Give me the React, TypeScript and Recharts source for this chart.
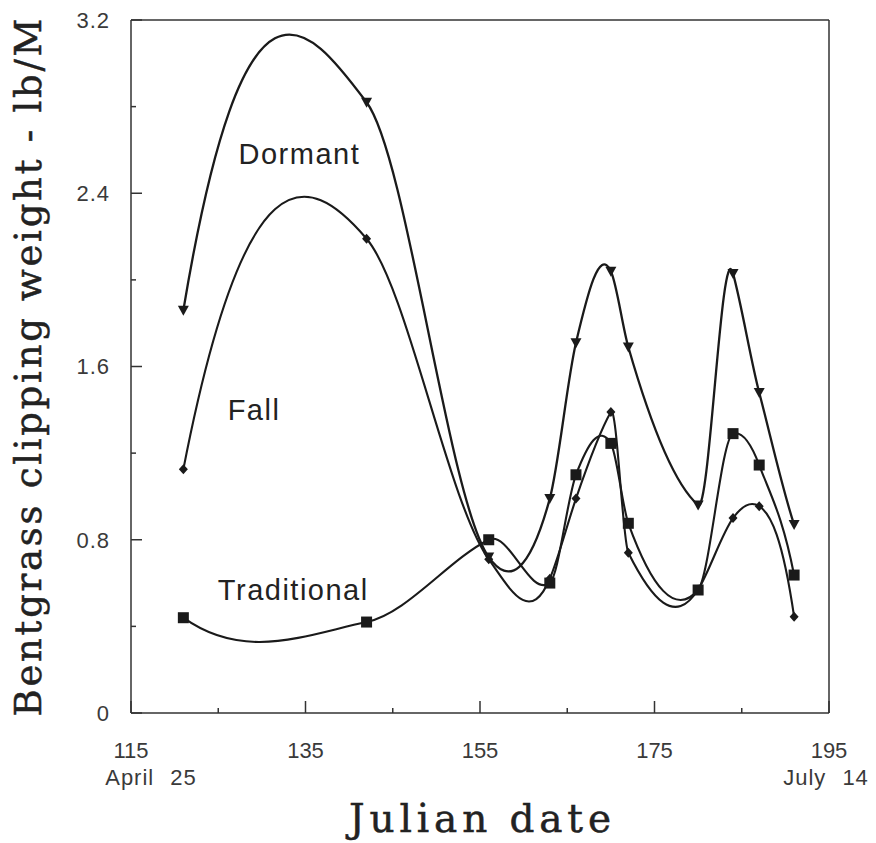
import React from 'react';
import { LineChart, Line, XAxis, YAxis, ReferenceLine, ReferenceDot, Label } from 'recharts';

// ---- data ----
const days = [121, 142, 156, 163, 166, 170, 172, 180, 184, 187, 191];
const dormantValues = [1.86, 2.82, 0.72, 0.99, 1.71, 2.04, 1.69, 0.96, 2.03, 1.48, 0.87];
const fallValues = [1.125, 2.19, 0.71, 0.62, 0.99, 1.39, 0.74, 0.57, 0.9, 0.955, 0.445];
const traditionalValues = [0.44, 0.42, 0.8, 0.6, 1.1, 1.245, 0.876, 0.568, 1.29, 1.145, 0.637];

const xTicks = [115, 125, 135, 145, 155, 165, 175, 185, 195];
const xTickLabels = ['115', '', '135', '', '155', '', '175', '', '195'];
const xSubLabels = ['April 25', '', '', '', '', '', '', '', 'July 14'];
const yTicks = [0, 0.4, 0.8, 1.2, 1.6, 2.0, 2.4, 2.8, 3.2];
const yTickLabels = ['0', '', '0.8', '', '1.6', '', '2.4', '', '3.2'];

const seriesNames = ['Dormant', 'Fall', 'Traditional'];
const xTitle = 'Julian date';
const yTitle = 'Bentgrass clipping weight - lb/M';

const toRows = (vals: number[]) => days.map((d, i) => ({ day: d, value: vals[i] }));
const dormantData = toRows(dormantValues);
const fallData = toRows(fallValues);
const traditionalData = toRows(traditionalValues);

// Akima-type smooth curve y(x) as a d3-style curve factory
function akimaCurve(context: any) {
  let xs: number[] = [];
  let ys: number[] = [];
  return {
    areaStart() {},
    areaEnd() {},
    lineStart() {
      xs = [];
      ys = [];
    },
    point(x: number, y: number) {
      xs.push(+x);
      ys.push(+y);
    },
    lineEnd() {
      const n = xs.length;
      if (!n) return;
      context.moveTo(xs[0], ys[0]);
      if (n < 3) {
        for (let i = 1; i < n; i++) context.lineTo(xs[i], ys[i]);
        return;
      }
      const s: number[] = [];
      for (let i = 0; i < n - 1; i++) s.push((ys[i + 1] - ys[i]) / (xs[i + 1] - xs[i]));
      const mExt: number[] = new Array(n + 3);
      for (let i = 0; i < n - 1; i++) mExt[i + 2] = s[i];
      mExt[1] = 2 * mExt[2] - mExt[3];
      mExt[0] = 2 * mExt[1] - mExt[2];
      mExt[n + 1] = 2 * mExt[n] - mExt[n - 1];
      mExt[n + 2] = 2 * mExt[n + 1] - mExt[n];
      const t: number[] = new Array(n);
      for (let i = 0; i < n; i++) {
        const mm2 = mExt[i];
        const mm1 = mExt[i + 1];
        const m0 = mExt[i + 2];
        const m1 = mExt[i + 3];
        const w1 = Math.abs(m1 - m0);
        const w2 = Math.abs(mm1 - mm2);
        t[i] = w1 + w2 < 1e-12 ? (mm1 + m0) / 2 : (w1 * mm1 + w2 * m0) / (w1 + w2);
      }
      t[0] = mExt[1];
      t[n - 1] = mExt[n + 1];
      for (let i = 0; i < n - 1; i++) {
        const h = xs[i + 1] - xs[i];
        context.bezierCurveTo(
          xs[i] + h / 3, ys[i] + (t[i] * h) / 3,
          xs[i + 1] - h / 3, ys[i + 1] - (t[i + 1] * h) / 3,
          xs[i + 1], ys[i + 1]
        );
      }
    },
  };
}

const INK = '#1a1a1a';

const TriDot = (p: any) => {
  const { cx, cy, index } = p;
  if (cx == null || cy == null) return <g key={`t${index}`} />;
  return <path key={`t${index}`} d={`M${cx - 5.5},${cy - 4.5}L${cx + 5.5},${cy - 4.5}L${cx},${cy + 5.5}Z`} fill={INK} />;
};
const DiaDot = (p: any) => {
  const { cx, cy, index } = p;
  if (cx == null || cy == null) return <g key={`d${index}`} />;
  return <path key={`d${index}`} d={`M${cx},${cy - 5}L${cx + 4.5},${cy}L${cx},${cy + 5}L${cx - 4.5},${cy}Z`} fill={INK} />;
};
const SqDot = (p: any) => {
  const { cx, cy, index } = p;
  if (cx == null || cy == null) return <g key={`s${index}`} />;
  return <rect key={`s${index}`} x={cx - 5.5} y={cy - 5.5} width={11} height={11} fill={INK} />;
};

const tickFont = { fontFamily: '"Liberation Sans", Arial, sans-serif', fontSize: 22, fill: '#3a3a3a' };

const XTick = (p: any) => {
  const { x, y, payload, index } = p;
  const i = xTicks.indexOf(payload.value);
  const label = xTickLabels[i] || '';
  const sub = xSubLabels[i] || '';
  const major = label !== '';
  const subDx = i === 0 ? 20 : i === xTicks.length - 1 ? -3 : 0;
  return (
    <g key={`xt${index}`}>
      <line x1={x} x2={x} y1={y} y2={y - (major ? 12 : 5)} stroke="#333" strokeWidth={1.5} />
      {label && (
        <text x={x} y={y + 45} textAnchor="middle" {...tickFont}>{label}</text>
      )}
      {sub && (
        <text x={x + subDx} y={y + 72} textAnchor="middle" {...tickFont} letterSpacing={1} style={{ wordSpacing: 9 }}>{sub}</text>
      )}
    </g>
  );
};

const YTick = (p: any) => {
  const { x, y, payload, index } = p;
  const i = yTicks.findIndex((v) => Math.abs(v - payload.value) < 1e-6);
  const label = yTickLabels[i] || '';
  const major = label !== '';
  return (
    <g key={`yt${index}`}>
      <line x1={x} x2={x + (major ? 11 : 5)} y1={y} y2={y} stroke="#333" strokeWidth={1.5} />
      {label && (
        <text x={x - 21} y={y} dy="0.36em" textAnchor="end" {...tickFont} letterSpacing={1}>{label}</text>
      )}
    </g>
  );
};

const titleFont = { fontFamily: '"DejaVu Serif", "Liberation Serif", serif', fill: '#222', stroke: '#222', strokeWidth: 0.5 };
const seriesLabelFont = { fontFamily: '"Liberation Sans", Arial, sans-serif', fontSize: 29, fill: '#222', letterSpacing: 1.5 };

const SeriesLabel = (text: string) => (p: any) => {
  const vb = p.viewBox || {};
  const cx = (vb.x ?? 0) + (vb.width ?? 0) / 2;
  const cy = (vb.y ?? 0) + (vb.height ?? 0) / 2;
  return (
    <text x={cx} y={cy} dy="0.36em" textAnchor="middle" {...seriesLabelFont}>{text}</text>
  );
};

export default function App() {
  return (
    <LineChart width={860} height={835} margin={{ top: 12, right: 39, left: 63, bottom: 70 }}>
      <XAxis
        type="number"
        dataKey="day"
        domain={[115, 195]}
        ticks={xTicks}
        interval={0}
        allowDataOverflow
        height={60}
        tickSize={0}
        tickMargin={0}
        tick={<XTick />}
        tickLine={false}
        axisLine={{ stroke: '#333', strokeWidth: 1.5 }}
      >
        <Label
          content={(p: any) => {
            const vb = p.viewBox || {};
            return (
              <text x={vb.x + vb.width / 2} y={vb.y + 119} textAnchor="middle" fontSize={39} textLength={262} lengthAdjust="spacing" {...titleFont}>
                {xTitle}
              </text>
            );
          }}
        />
      </XAxis>
      <YAxis
        type="number"
        domain={[0, 3.2]}
        ticks={yTicks}
        interval={0}
        allowDataOverflow
        width={60}
        tickSize={0}
        tickMargin={0}
        tick={<YTick />}
        tickLine={false}
        axisLine={{ stroke: '#333', strokeWidth: 1.5 }}
      >
        <Label
          content={(p: any) => {
            const vb = p.viewBox || {};
            const cx = 20;
            const cy = vb.y + vb.height / 2 + 1;
            return (
              <text x={cx} y={cy} textAnchor="middle" dominantBaseline="central" fontSize={37} textLength={698} lengthAdjust="spacing" transform={`rotate(-90 ${cx} ${cy})`} {...titleFont}>
                {yTitle}
              </text>
            );
          }}
        />
      </YAxis>
      <ReferenceLine y={3.2} stroke="#333" strokeWidth={1.5} />
      <ReferenceLine x={195} stroke="#333" strokeWidth={1.5} />

      <Line data={dormantData} dataKey="value" type={akimaCurve as any} stroke={INK} strokeWidth={2.3} dot={TriDot} activeDot={false} isAnimationActive={false} name={seriesNames[0]} />
      <Line data={fallData} dataKey="value" type={akimaCurve as any} stroke={INK} strokeWidth={2.1} dot={DiaDot} activeDot={false} isAnimationActive={false} name={seriesNames[1]} />
      <Line data={traditionalData} dataKey="value" type={akimaCurve as any} stroke={INK} strokeWidth={2.1} dot={SqDot} activeDot={false} isAnimationActive={false} name={seriesNames[2]} />

      <ReferenceDot x={134.3} y={2.585} r={0} fill="none" stroke="none" label={{ content: SeriesLabel(seriesNames[0]) }} />
      <ReferenceDot x={129.1} y={1.4} r={0} fill="none" stroke="none" label={{ content: SeriesLabel(seriesNames[1]) }} />
      <ReferenceDot x={133.6} y={0.568} r={0} fill="none" stroke="none" label={{ content: SeriesLabel(seriesNames[2]) }} />
    </LineChart>
  );
}
